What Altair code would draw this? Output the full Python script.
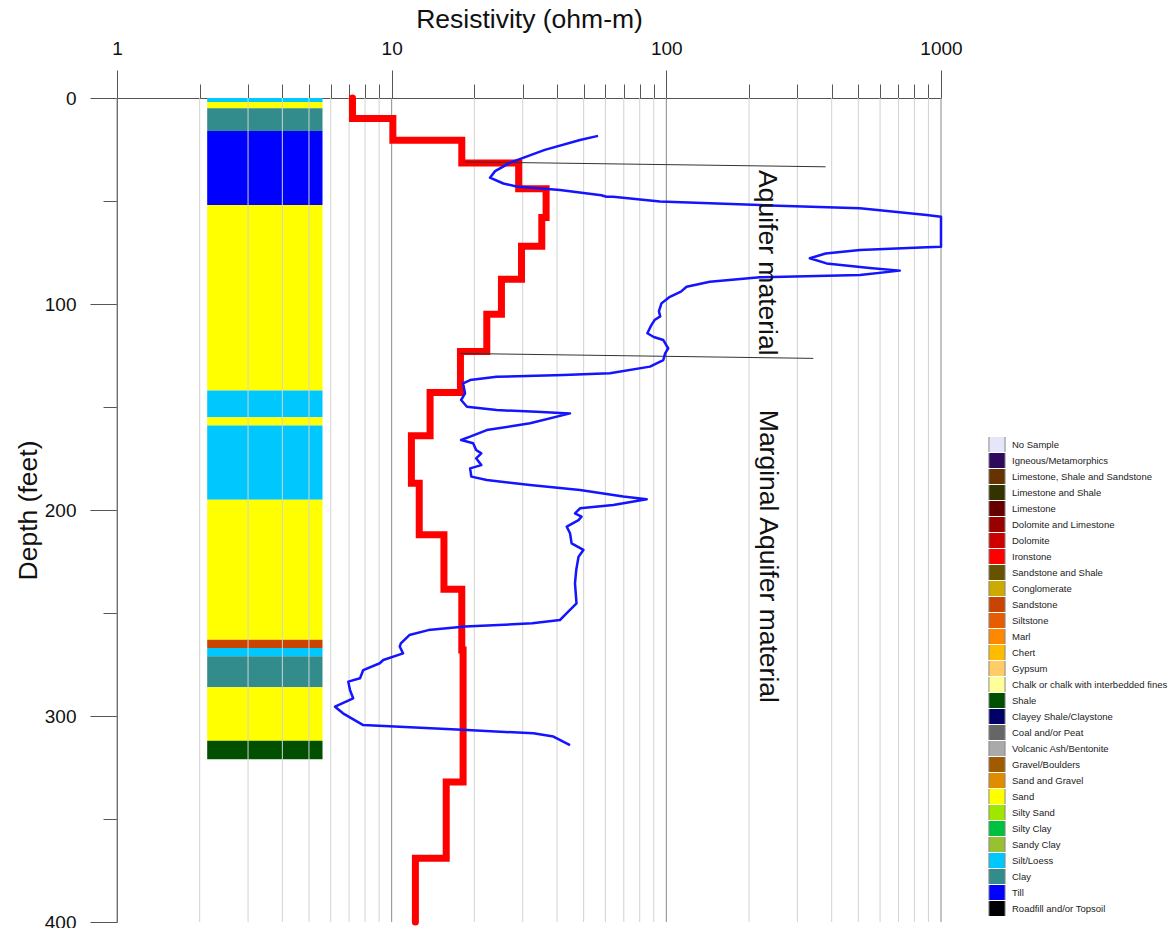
import altair as alt
import pandas as pd

FONT = "Liberation Sans"

# ---- Lithology classes shown in the legend -------------------------------
lith_names = [
    "No Sample", "Igneous/Metamorphics", "Limestone, Shale and Sandstone",
    "Limestone and Shale", "Limestone", "Dolomite and Limestone", "Dolomite",
    "Ironstone", "Sandstone and Shale", "Conglomerate", "Sandstone", "Siltstone",
    "Marl", "Chert", "Gypsum", "Chalk or chalk with interbedded fines", "Shale",
    "Clayey Shale/Claystone", "Coal and/or Peat", "Volcanic Ash/Bentonite",
    "Gravel/Boulders", "Sand and Gravel", "Sand", "Silty Sand", "Silty Clay",
    "Sandy Clay", "Silt/Loess", "Clay", "Till", "Roadfill and/or Topsoil",
]
lith_colors = [
    "#e6e6fa", "#2e0a5c", "#663300", "#333300", "#660000", "#990000", "#cc0000",
    "#ff0000", "#665200", "#ccaa00", "#c84400", "#e65c00", "#ff8800", "#ffbb00",
    "#ffcc66", "#ffff99", "#005000", "#000066", "#666666", "#aaaaaa",
    "#a05a00", "#e08b00", "#ffff00", "#a0e600", "#00c040", "#99c033",
    "#00c8ff", "#338c8c", "#0000ff", "#000000",
]

# ---- Borehole lithology column (depth in feet) ---------------------------
col_top = [0, 2, 5, 16, 52, 142, 155, 159, 195, 263, 267, 271, 286, 312]
col_bottom = [2, 5, 16, 52, 142, 155, 159, 195, 263, 267, 271, 286, 312, 321]
col_lith = ["Silt/Loess", "Sand", "Clay", "Till", "Sand", "Silt/Loess", "Sand",
            "Silt/Loess", "Sand", "Sandstone", "Silt/Loess", "Clay", "Sand", "Shale"]
col_res_left = 2.13
col_res_right = 5.6

# ---- Layered-earth resistivity model (red step curve) --------------------
model_top = [0, 10, 20.5, 31.5, 44, 58, 72, 88, 105, 123, 143, 164, 187, 212,
             238.5, 268, 332, 369]
model_bottom = [10, 20.5, 31.5, 44, 58, 72, 88, 105, 123, 143, 164, 187, 212,
                238.5, 268, 332, 369, 400]
model_res = [7.2, 10.1, 18.0, 29.0, 36.5, 35.2, 29.7, 25.1, 22.2, 17.8, 13.8,
             11.8, 12.6, 15.5, 18.0, 18.2, 15.8, 12.2]

# ---- Borehole resistivity log (blue curve) -------------------------------
log_depth = [
    18.4, 20.4, 25.2, 31.4, 35.5, 38.7, 41.5, 43.0, 44.7, 47.2, 47.9, 47.9,
    50.3, 52.0, 53.5, 56.8, 57.6, 72.2, 72.5, 73.8, 75.5, 77.8, 80.3, 82.5,
    83.8, 85.9, 87.0, 89.2, 91.6, 94.0, 96.5, 99.7, 103.5, 106.0, 107.8, 110.5,
    114.2, 116.0, 117.5, 121.5, 124.0, 127.2, 130.4, 133.6, 134.5, 135.3, 136.9,
    138.5, 143.4, 146.6, 149.9, 151.5, 152.3, 153.1, 157.9, 161.2, 164.4, 166.0,
    167.6, 170.9, 172.5, 174.9, 178.2, 179.8, 183.8, 185.4, 187.9, 190.3, 193.5,
    194.8, 197.6, 199.2, 201.6, 203.2, 204.9, 208.1, 211.3, 216.2, 219.4, 222.7,
    229.0, 235.6, 245.3, 250.1, 253.4, 255.0, 256.6, 258.3, 260.7, 264.7, 266.3,
    269.6, 272.8, 274.4, 277.7, 281.7, 283.3, 287.4, 291.4, 295.5, 298.7, 304.4,
    305.2, 306.8, 308.4, 310.0, 314.1,
]
log_res = [
    56.4, 48.5, 36.1, 27.0, 23.8, 22.8, 25.5, 28.5, 41.0, 58.0, 60.5, 64.0,
    94.8, 219, 507, 887, 1000, 1000, 887, 507, 380, 333, 383, 550,
    708, 507, 219, 144, 118.5, 113, 103, 96, 94, 95, 90.6, 88,
    85.3, 90, 97.5, 101.6, 99, 97.5, 87.2, 62.3, 42.2, 24.1, 19.3,
    18.2, 18.5, 17.9, 18.8, 24.1, 33.7, 44.6, 31.9, 22.2, 19.3, 17.9,
    19.8, 20.3, 21.2, 20.3, 21.2, 19.3, 19.5, 22.2, 31.9, 48.5, 69.7,
    84.8, 64.1, 48.5, 46.5, 49.1, 47.9, 43.4, 44.6, 45.2, 49.9, 47.9,
    47.0, 46.5, 47.1, 43.4, 41.0, 32.5, 18.5, 13.6, 11.6, 10.8, 10.7,
    11.0, 9.32, 9.05, 7.88, 7.67, 6.95, 7.05, 7.24, 6.22, 6.65, 7.88,
    10.7, 18.8, 32.8, 38.8, 44.6,
]

# ---- Aquifer boundary picks (thin black lines) ---------------------------
pick_res_start = [18.5, 17.8]
pick_depth_start = [31.0, 124.0]
pick_res_end = [380, 343]
pick_depth_end = [33.4, 126.4]

# ---- Interpretation labels ----------------------------------------------
note_text = ["Aquifer material", "Marginal Aquifer material"]
note_res = [232, 234]
note_depth = [80, 222.5]

# ---- Axis ticks ----------------------------------------------------------
res_ticks = [1, 2, 3, 4, 5, 6, 7, 8, 9,
             10, 20, 30, 40, 50, 60, 70, 80, 90,
             100, 200, 300, 400, 500, 600, 700, 800, 900, 1000]
res_major = [1, 10, 100, 1000]
depth_ticks = [0, 50, 100, 150, 200, 250, 300, 350, 400]

W, H = 824, 824

# ---- Tables --------------------------------------------------------------
col_df = pd.DataFrame({"res": col_res_left, "res2": col_res_right,
                       "depth": col_top, "depth2": col_bottom, "lith": col_lith})

model_rows = []
for top, bot, r in zip(model_top, model_bottom, model_res):
    model_rows.append({"res": r, "depth": top})
    model_rows.append({"res": r, "depth": bot})
model_df = pd.DataFrame(model_rows)
model_df["i"] = range(len(model_df))

log_df = pd.DataFrame({"res": log_res, "depth": log_depth})
log_df["i"] = range(len(log_df))

pick_rows = []
for k in range(len(pick_res_start)):
    pick_rows.append({"grp": k, "i": 0, "res": pick_res_start[k], "depth": pick_depth_start[k]})
    pick_rows.append({"grp": k, "i": 1, "res": pick_res_end[k], "depth": pick_depth_end[k]})
pick_df = pd.DataFrame(pick_rows)

note_df = pd.DataFrame({"res": note_res, "depth": note_depth, "label": note_text})

grid_df = pd.DataFrame({"res": res_ticks,
                        "major": [t in res_major for t in res_ticks]})

# ---- Scales and axes ----------------------------------------------------
x_scale = alt.Scale(type="log", domain=[1, 1000])
y_scale = alt.Scale(domain=[0, 400], reverse=True)

major_test = "indexof([1, 10, 100, 1000], datum.value) >= 0"
x_axis = alt.Axis(
    orient="top", values=res_ticks, grid=False, format="d", labelFlush=False,
    labelExpr=f"{major_test} ? datum.label : ''",
    tickSize={"condition": {"test": major_test, "value": 28}, "value": 14},
    tickColor="#555555", domainColor="#555555",
    labelPadding=12, labelFontSize=19, labelFont=FONT, labelColor="#111111",
    title="Resistivity (ohm-m)", titleFont=FONT, titleFontSize=26.5,
    titleFontWeight="normal", titleColor="#111111", titleY=-65,
)
y_axis = alt.Axis(
    orient="left", values=depth_ticks, grid=False, labelFlush=False,
    labelExpr="datum.value % 100 === 0 ? datum.label : ''",
    tickSize={"condition": {"test": "datum.value % 100 === 0", "value": 27}, "value": 14},
    tickColor="#555555", domainColor="#555555",
    labelPadding=14, labelFontSize=19, labelFont=FONT, labelColor="#111111",
    title="Depth (feet)", titleFont=FONT, titleFontSize=26.5,
    titleFontWeight="normal", titleColor="#111111", titleX=-75,
)


def X(field="res"):
    return alt.X(f"{field}:Q", scale=x_scale, axis=x_axis)


def Y(field="depth"):
    return alt.Y(f"{field}:Q", scale=y_scale, axis=y_axis)


column = alt.Chart(col_df).mark_rect().encode(
    x=X(), x2="res2:Q", y=Y(), y2="depth2:Q",
    color=alt.Color(
        "lith:N",
        scale=alt.Scale(domain=lith_names, range=lith_colors),
        legend=alt.Legend(
            orient="none", legendX=871, legendY=339, direction="vertical",
            title=None, symbolType="square", symbolSize=259,
            symbolStrokeColor="#888888", symbolStrokeWidth=1, symbolOpacity=1,
            labelFont=FONT, labelFontSize=9.5, labelColor="#222222",
            labelOffset=6, labelLimit=260, rowPadding=0, padding=0,
            clipHeight=15.1, symbolLimit=40,
        ),
    ),
)

grid = alt.Chart(grid_df).mark_rule(strokeWidth=1).encode(
    x=X(), y=alt.value(0), y2=alt.value(H),
    color=alt.condition("datum.major", alt.value("#8a8a8a"), alt.value("#d2d2d2")),
)

model = alt.Chart(model_df).mark_line(
    color="#ff0000", strokeWidth=7, strokeCap="round", strokeJoin="miter"
).encode(x=X(), y=Y(), order="i:Q")

picks = alt.Chart(pick_df).mark_line(color="#333333", strokeWidth=1).encode(
    x=X(), y=Y(), detail="grp:N", order="i:Q"
)

res_log = alt.Chart(log_df).mark_line(
    color="#1414ff", strokeWidth=2.5, strokeJoin="round"
).encode(x=X(), y=Y(), order="i:Q")

notes = alt.Chart(note_df).mark_text(
    angle=90, font=FONT, fontSize=26.5, color="#111111", align="center", baseline="middle"
).encode(x=X(), y=Y(), text="label:N")

chart = alt.layer(column, grid, model, picks, res_log, notes).properties(
    width=W, height=H,
    autosize=alt.AutoSizeParams(type="none"),
    padding={"left": 117, "top": 98, "right": 231, "bottom": 6},
    background="white",
).configure_view(strokeWidth=0)

chart.save("out.html", embed_options={"renderer": "svg", "actions": False})
